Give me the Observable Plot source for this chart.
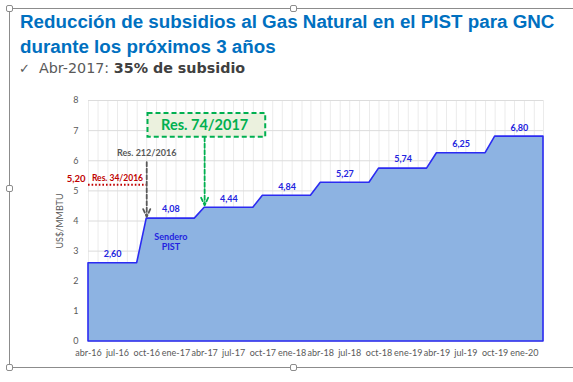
<!DOCTYPE html>
<html><head><meta charset="utf-8">
<script src="https://cdn.jsdelivr.net/npm/d3@7"></script>
<script src="https://cdn.jsdelivr.net/npm/@observablehq/plot@0.6"></script>
<style>
body{margin:0;background:#fff;width:573px;height:382px;position:relative;overflow:hidden;font-family:"Liberation Sans",Arial,sans-serif}
#frame{position:absolute;left:9px;top:8px;width:600px;height:360px;border:1px solid #8c8c8c;box-sizing:border-box}
.h{position:absolute;width:7px;height:7px;border:1px solid #8c8c8c;background:#fff;border-radius:2px;box-sizing:border-box}
#title{position:absolute;left:20px;top:9px;color:#0070c0;font-weight:bold;font-size:18.8px;line-height:25px;white-space:nowrap}
#check{position:absolute;left:19px;top:61px;color:#595959;font-size:13px;font-family:"DejaVu Sans",sans-serif}
#sub{position:absolute;left:39px;top:60px;color:#595959;font-size:14.3px;white-space:nowrap;font-family:"DejaVu Sans",Verdana,sans-serif}
#sub b{color:#404040}
#chart{position:absolute;left:10px;top:90px}
</style></head><body>
<div id="frame"></div>
<div class="h" style="left:6px;top:5px"></div>
<div class="h" style="left:290px;top:5px"></div>
<div class="h" style="left:6px;top:185px"></div>
<div class="h" style="left:6px;top:364px"></div>
<div class="h" style="left:290px;top:364px"></div>
<div id="title">Reducción de subsidios al Gas Natural en el PIST para GNC<br>durante los próximos 3 años</div>
<div id="check">✓</div>
<div id="sub">Abr-2017: <b>35% de subsidio</b></div>
<div id="chart"></div>
<script>
// Monthly price path (US$/MMBTU), abr-16 .. mar-20
const startMonth = "2016-04-01";
const prices = [
  2.60, 2.60, 2.60, 2.60, 2.60, 2.60,
  4.08, 4.08, 4.08, 4.08, 4.08, 4.08,
  4.44, 4.44, 4.44, 4.44, 4.44, 4.44,
  4.84, 4.84, 4.84, 4.84, 4.84, 4.84,
  5.27, 5.27, 5.27, 5.27, 5.27, 5.27,
  5.74, 5.74, 5.74, 5.74, 5.74, 5.74,
  6.25, 6.25, 6.25, 6.25, 6.25, 6.25,
  6.80, 6.80, 6.80, 6.80, 6.80, 6.80
];
// value labels (mid-segment)
const labelDates = ["2016-06-16","2016-12-16","2017-06-16","2017-12-16","2018-06-16","2018-12-16","2019-06-16","2019-12-16"];
const labelValues = [2.60, 4.08, 4.44, 4.84, 5.27, 5.74, 6.25, 6.80];
// x tick labels
const tickDates = ["2016-04-01","2016-07-01","2016-10-01","2017-01-01","2017-04-01","2017-07-01","2017-10-01","2018-01-01","2018-04-01","2018-07-01","2018-10-01","2019-01-01","2019-04-01","2019-07-01","2019-10-01","2020-01-01"];
const tickLabels = ["abr-16","jul-16","oct-16","ene-17","abr-17","jul-17","oct-17","ene-18","abr-18","jul-18","oct-18","ene-19","abr-19","jul-19","oct-19","ene-20"];
const yTicks = [0,1,2,3,4,5,6,7,8];
// annotations
const res34 = {from: "2016-04-01", to: "2016-10-01", value: 5.20, label: "Res. 34/2016", valueLabel: "5,20", labelDate: "2016-07-01"};
const res212 = {date: "2016-10-01", top: 5.95, bottom: 4.14, labelY: 6.25, label: "Res. 212/2016"};
const res74 = {date: "2017-04-01", boxFrom: "2016-10-05", boxTo: "2017-10-10", boxTop: 7.57, boxBottom: 6.78, bottom: 4.52, label: "Res. 74/2017"};
const sendero = {date: "2016-12-16", value: 3.32, label: "Sendero\nPIST"};

const months = d3.utcMonth.range(new Date(startMonth), d3.utcMonth.offset(new Date(startMonth), prices.length));
const data = prices.map((v, i) => ({date: months[i], value: v}));
const labels = labelDates.map((d, i) => ({date: new Date(d), value: labelValues[i], text: labelValues[i].toFixed(2).replace(".", ",")}));
const tickMap = new Map(tickDates.map((d, i) => [+new Date(d), tickLabels[i]]));
const D = s => new Date(s);
const FONT = "Lato, 'Open Sans', sans-serif";

const chart = Plot.plot({
  width: 562, height: 275,
  marginLeft: 78, marginRight: 29, marginTop: 10, marginBottom: 24,
  style: {fontFamily: FONT, fontSize: "10px", color: "#595959", background: "transparent"},
  x: {type: "utc", domain: [months[0], months[months.length - 1]]},
  y: {domain: [0, 8]},
  marks: [
    Plot.ruleX(months, {stroke: "#ebebeb", strokeWidth: 1, y1: 0, y2: 8}),
    Plot.ruleY(yTicks, {stroke: "#dcdcdc", strokeWidth: 1}),
    Plot.areaY(data, {x: "date", y: "value", fill: "#8db3e2", stroke: "#2b2bf2", strokeWidth: 1.6}),
    Plot.axisY({ticks: yTicks, tickSize: 0, tickPadding: 10, label: "US$/MMBTU", labelAnchor: "center", labelArrow: "none", labelOffset: 32, fontSize: 9, color: "#595959"}),
    Plot.axisX({ticks: tickDates.map(D), tickFormat: d => tickMap.get(+d), tickSize: 0, tickPadding: 8, label: null, fontSize: 9, color: "#595959"}),
    Plot.text(labels, {x: "date", y: "value", text: "text", dy: -9, fill: "#2323e0", fontWeight: "bold", fontSize: 9}),
    // Res. 34/2016
    Plot.ruleY([res34], {x1: d => D(d.from), x2: d => D(d.to), y: "value", stroke: "#c00000", strokeWidth: 2, strokeDasharray: "1.6,2"}),
    Plot.text([res34], {x: d => D(d.from), y: "value", text: "valueLabel", dx: -3, dy: -5.5, textAnchor: "end", fill: "#c00000", fontWeight: "bold", fontSize: 9.5}),
    Plot.text([res34], {x: d => D(d.labelDate), y: "value", text: "label", dy: -7, fill: "#c00000", fontWeight: "bold", fontSize: 8.5}),
    // Res. 212/2016
    Plot.arrow([res212], {x: d => D(d.date), y1: "top", y2: "bottom", stroke: "#595959", strokeWidth: 1.8, strokeDasharray: "4,2.5", headLength: 7, headAngle: 50}),
    Plot.text([res212], {x: d => D(d.date), y: "labelY", text: "label", fill: "#595959", fontWeight: "bold", fontSize: 9}),
    // Res. 74/2017
    Plot.rect([res74], {x1: d => D(d.boxFrom), x2: d => D(d.boxTo), y1: "boxBottom", y2: "boxTop", fill: "#ebf1de", stroke: "#00b050", strokeWidth: 2, strokeDasharray: "5,3"}),
    Plot.text([res74], {x: d => D(d.date), y: d => (d.boxTop + d.boxBottom) / 2, text: "label", fill: "#00b050", fontWeight: "bold", fontSize: 14.5}),
    Plot.arrow([res74], {x: d => D(d.date), y1: "boxBottom", y2: "bottom", stroke: "#00b050", strokeWidth: 1.8, strokeDasharray: "4,2.5", headLength: 7, headAngle: 50}),
    // Sendero PIST
    Plot.text([sendero], {x: d => D(d.date), y: "value", text: "label", fill: "#2323e0", fontWeight: "bold", fontSize: 9, lineHeight: 1.15})
  ]
});
document.getElementById("chart").append(chart);
</script>
</body></html>
